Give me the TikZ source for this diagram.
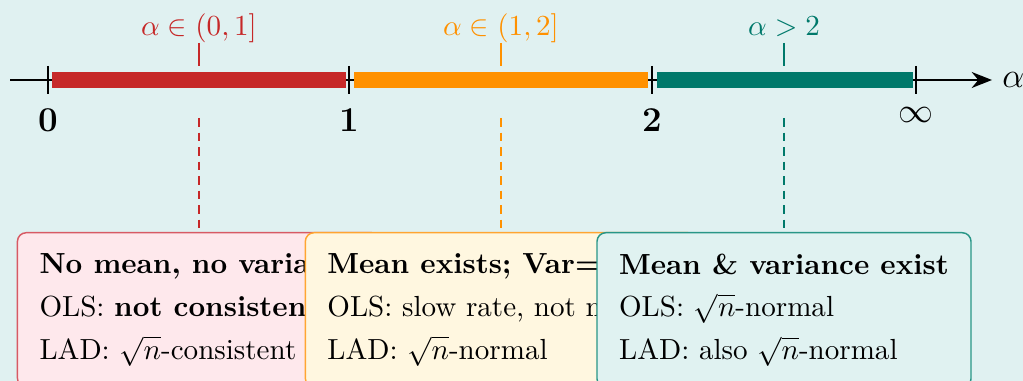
\documentclass[tikz,border=0pt]{standalone}
\usetikzlibrary{arrows.meta}
\definecolor{bg}{RGB}{224,241,241}
\definecolor{cred}{RGB}{198,40,40}
\definecolor{corange}{RGB}{255,145,0}
\definecolor{cteal}{RGB}{0,121,107}
\definecolor{fred}{RGB}{254,232,236}
\definecolor{bred}{RGB}{215,90,100}
\definecolor{forange}{RGB}{255,247,224}
\definecolor{borange}{RGB}{255,165,50}
\definecolor{fteal}{RGB}{224,242,241}
\definecolor{bteal}{RGB}{40,150,135}
\begin{document}
\begin{tikzpicture}[x=0.344pt,y=-0.344pt,
  tickmark/.style={line width=0.7pt},
  bar/.style={line width=5.5pt},
  numlab/.style={anchor=north,inner sep=0pt,font=\large\bfseries},
  rangelab/.style={anchor=base,inner sep=0pt},
  pin/.style={line width=0.5pt},
  leader/.style={line width=0.5pt, dash pattern=on 3pt off 2pt},
  infobox/.style={draw,line width=0.5pt,rounded corners=3pt,anchor=north,align=left,inner xsep=7.6pt,inner ysep=7.2pt,font=\fontsize{10}{14.7}\selectfont}]
\useasboundingbox (0,0) rectangle (1023,381);
\clip (0,0) rectangle (1023,381);
\fill[bg] (0,0) rectangle (1023,381);
% axis
\coordinate (axs) at (10,80);
\coordinate (axe) at (992,80);
\draw[line width=0.7pt,-{Stealth[length=7pt,width=5.5pt]}] (axs) -- (axe);
\node[anchor=west,font=\large] (alab) at (axe) {$\alpha$};
% bars
\coordinate (a0) at (52,80);  \coordinate (a1) at (346,80);
\coordinate (b0) at (354,80); \coordinate (b1) at (648,80);
\coordinate (c0) at (657,80); \coordinate (c1) at (913,80);
\draw[bar,cred] (a0) -- (a1);
\draw[bar,corange] (b0) -- (b1);
\draw[bar,cteal] (c0) -- (c1);
% ticks
\draw[tickmark] (48,66) -- (48,94);
\draw[tickmark] (349,66) -- (349,94);
\draw[tickmark] (652,66) -- (652,94);
\draw[tickmark] (916,66) -- (916,94);
\node[numlab] (n0) at (48,108) {0};
\node[numlab] (n1) at (349,108) {1};
\node[numlab] (n2) at (652,108) {2};
\node[numlab] (ninf) at (916,107) {$\infty$};
% range labels
\node[rangelab,text=cred] (r1) at (199,36) {$\alpha\in(0,1]$};
\node[rangelab,text=corange] (r2) at (501,36) {$\alpha\in(1,2]$};
\node[rangelab,text=cteal] (r3) at (784,36) {$\alpha>2$};
\coordinate (p1a) at (199,43); \coordinate (p1b) at (199,66);
\coordinate (p2a) at (501,43); \coordinate (p2b) at (501,66);
\coordinate (p3a) at (784,43); \coordinate (p3b) at (784,66);
\draw[pin,cred] (p1a) -- (p1b);
\draw[pin,corange] (p2a) -- (p2b);
\draw[pin,cteal] (p3a) -- (p3b);
% leaders
\coordinate (l1) at (199,118);
\coordinate (l2) at (501,118);
\coordinate (l3) at (784,118);
\node[infobox,draw=bred,fill=fred] (box1) at (199,232) {\textbf{No mean, no variance}\\OLS: \textbf{not consistent}\\LAD: $\sqrt{n}$-consistent};
\node[infobox,draw=borange,fill=forange] (box2) at (501,232) {\textbf{Mean exists; Var=$\infty$}\\OLS: slow rate, not normal\\LAD: $\sqrt{n}$-normal};
\node[infobox,draw=bteal,fill=fteal] (box3) at (784,232) {\textbf{Mean \& variance exist}\\OLS: $\sqrt{n}$-normal\\LAD: also $\sqrt{n}$-normal};
\draw[leader,cred] (l1) -- (box1.north);
\draw[leader,corange] (l2) -- (box2.north);
\draw[leader,cteal] (l3) -- (box3.north);
\end{tikzpicture}
\end{document}
